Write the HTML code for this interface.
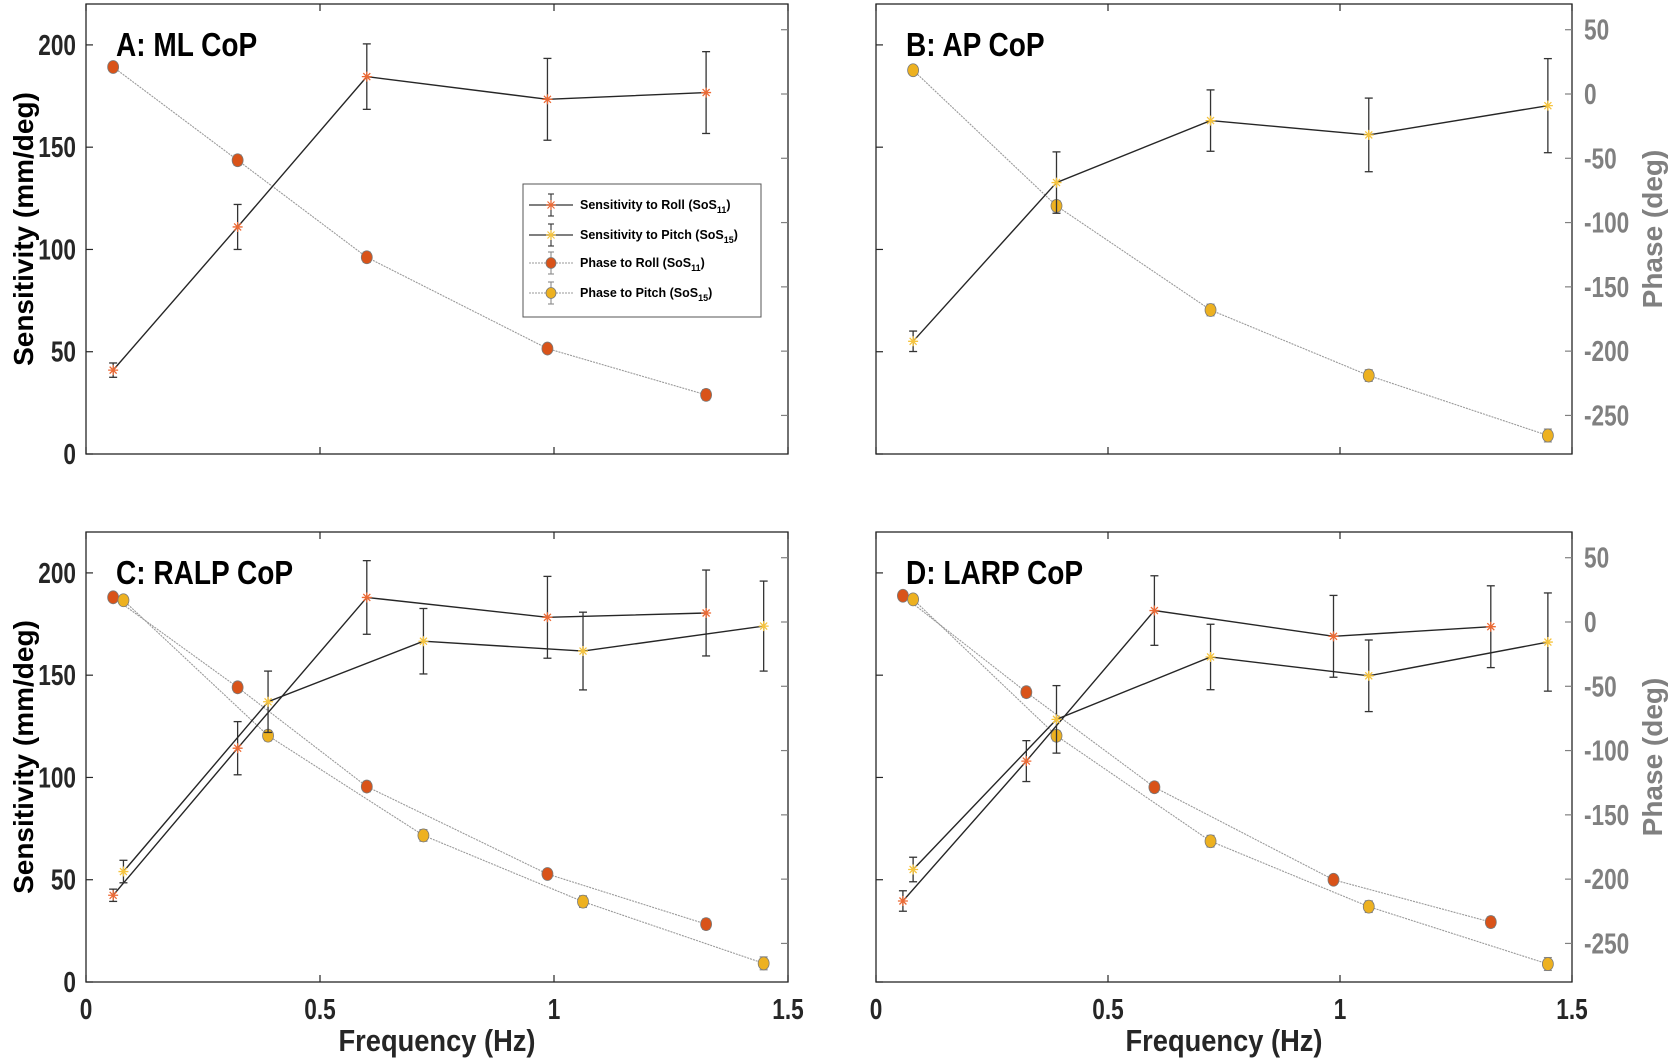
<!DOCTYPE html>
<html><head><meta charset="utf-8">
<style>
html,body{margin:0;padding:0;background:#fff;}
svg{display:block;}
text{font-family:"Liberation Sans",sans-serif;font-weight:bold;}
</style></head>
<body>
<svg id="fig" width="1675" height="1063" viewBox="0 0 1675 1063" xmlns="http://www.w3.org/2000/svg"></svg>
<script>
// ---- data ----
const freqRoll = [0.058, 0.324, 0.60, 0.986, 1.325];
const freqPitch = [0.080, 0.389, 0.721, 1.062, 1.448];
const xTicks = [0, 0.5, 1, 1.5];
const xTickLabels = ["0", "0.5", "1", "1.5"];
const sensTicks = [0, 50, 100, 150, 200];
const phaseTicks = [50, 0, -50, -100, -150, -200, -250];

const sensRollA = [41, 111, 184.5, 173.4, 176.7];
const sensRollErrA = [3.5, 11, 16, 20, 20];
const phaseRollA = [21, -51.5, -127, -198, -234];
const phaseRollErrA = [3, 4, 4, 3.5, 4];

const sensPitchB = [55.1, 132.7, 163, 156, 170.3];
const sensPitchErrB = [5, 15, 15, 18, 23];
const phasePitchB = [18.5, -87, -168, -219, -265.6];
const phasePitchErrB = [3, 4, 4.5, 4.5, 5];

const sensRollC = [42.4, 114.3, 188, 178.3, 180.4];
const sensRollErrC = [3, 13, 18, 20, 21];
const sensPitchC = [54, 137, 166.6, 161.8, 174];
const sensPitchErrC = [5.5, 15, 16, 19, 22];
const phaseRollC = [19.2, -50.8, -128, -196, -235];
const phaseRollErrC = [3, 4, 4, 3.5, 4];
const phasePitchC = [16.9, -88.4, -166, -217.5, -265.5];
const phasePitchErrC = [3, 4, 4.5, 4.5, 5];

const sensRollD = [39.6, 108, 181.6, 169, 173.7];
const sensRollErrD = [5, 10, 17, 20, 20];
const sensPitchD = [55, 128.4, 158.9, 149.7, 166.2];
const sensPitchErrD = [6, 16.5, 16, 17.5, 24];
const phaseRollD = [20.4, -54.6, -128.5, -200.5, -233.4];
const phaseRollErrD = [3, 4, 4, 3.5, 4];
const phasePitchD = [17.6, -88.5, -170.5, -221.4, -266];
const phasePitchErrD = [3, 4, 4.5, 4.5, 5];

const NS = "http://www.w3.org/2000/svg";
const svg = document.getElementById("fig");
function el(tag, attrs, parent) {
  const e = document.createElementNS(NS, tag);
  for (const k in attrs) e.setAttribute(k, attrs[k]);
  (parent || svg).appendChild(e);
  return e;
}
function ctext(parent, x, y, txt, size, anchor, fill, sx, rot) {
  const t = el("text", {x: 0, y: 0, "font-size": size, "text-anchor": anchor, fill: fill,
    transform: `translate(${x} ${y}) rotate(${rot || 0}) scale(${sx} 1)`}, parent);
  t.textContent = txt;
  return t;
}
const C_ROLL = "#d95319", C_PITCH = "#edb120", C_ROLL_STAR = "#ec6a35", C_PITCH_STAR = "#f6c43e";
const NARROW = 0.78;

function panel(cfg) {
  const g = el("g", {});
  
  
  const L = cfg.x0, R = cfg.x1, T = cfg.y0, B = cfg.y1;
  const xs = v => L + (v / 1.5) * (R - L);
  const ys = v => B - (v / 220) * (B - T);
  const yp = v => B - ((v + 280) / 350) * (B - T);
  const box = el("rect", {x: L, y: T, width: R - L, height: B - T, fill: "none", stroke: "#262626", "stroke-width": 1.3}, g);
  
  
  xTicks.forEach((t, i) => {
    const x = xs(t);
    el("line", {x1: x, y1: B, x2: x, y2: B - 7, stroke: "#262626", "stroke-width": 1.2}, g);
    el("line", {x1: x, y1: T, x2: x, y2: T + 7, stroke: "#262626", "stroke-width": 1.2}, g);
    if (cfg.xlabels) {
      const tx = ctext(g, x, B + 37, xTickLabels[i], 29, "middle", "#262626", NARROW);
      
      
    }
  });
  sensTicks.forEach(t => {
    const y = ys(t);
    el("line", {x1: L, y1: y, x2: L + 7, y2: y, stroke: "#262626", "stroke-width": 1.2}, g);
    if (cfg.ylabels) {
      const tx = ctext(g, L - 10, y + 10, String(t), 29, "end", "#262626", NARROW);
      
      
    }
  });
  phaseTicks.forEach(t => {
    const y = yp(t);
    el("line", {x1: R, y1: y, x2: R - 7, y2: y, stroke: "#808080", "stroke-width": 1.2}, g);
    if (cfg.plabels) {
      const tx = ctext(g, R + 12, y + 10, String(t), 29, "start", "#808080", NARROW);
      
      
    }
  });
  const ti = ctext(g, L + 30, T + 52, cfg.title, 33, "start", "#000", 0.85);
  
  

  function phaseSeries(freqs, vals, errs, color, nm) {
    const pts = freqs.map((f, i) => xs(f) + "," + yp(vals[i])).join(" ");
    const pl = el("polyline", {points: pts, fill: "none", stroke: "#9a9a9a", "stroke-width": 1.1, "stroke-dasharray": "2,1"}, g);
    
    
    freqs.forEach((f, i) => {
      const x = xs(f), y = yp(vals[i]), e1 = yp(vals[i] + errs[i]), e2 = yp(vals[i] - errs[i]);
      el("line", {x1: x, y1: e1, x2: x, y2: e2, stroke: "#8a8a8a", "stroke-width": 1.2}, g);
      el("line", {x1: x - 4, y1: e1, x2: x + 4, y2: e1, stroke: "#8a8a8a", "stroke-width": 1.2}, g);
      el("line", {x1: x - 4, y1: e2, x2: x + 4, y2: e2, stroke: "#8a8a8a", "stroke-width": 1.2}, g);
      const c = el("ellipse", {cx: x, cy: y, rx: 5.5, ry: 6.5, fill: color, stroke: "#7a7a7a", "stroke-width": 0.8}, g);
      
      
    });
  }
  function sensSeries(freqs, vals, errs, color, nm) {
    const pts = freqs.map((f, i) => xs(f) + "," + ys(vals[i])).join(" ");
    const pl = el("polyline", {points: pts, fill: "none", stroke: "#262626", "stroke-width": 1.4}, g);
    
    
    freqs.forEach((f, i) => {
      const x = xs(f), y = ys(vals[i]), e1 = ys(vals[i] + errs[i]), e2 = ys(vals[i] - errs[i]);
      el("line", {x1: x, y1: e1, x2: x, y2: e2, stroke: "#333", "stroke-width": 1.3}, g);
      el("line", {x1: x - 4, y1: e1, x2: x + 4, y2: e1, stroke: "#333", "stroke-width": 1.3}, g);
      el("line", {x1: x - 4, y1: e2, x2: x + 4, y2: e2, stroke: "#333", "stroke-width": 1.3}, g);
      const s = el("path", {d: `M${x-5},${y}H${x+5}M${x},${y-5}V${y+5}M${x-3.5},${y-3.5}L${x+3.5},${y+3.5}M${x-3.5},${y+3.5}L${x+3.5},${y-3.5}`, stroke: color, "stroke-width": 1.3}, g);
      
      
    });
  }
  cfg.series.forEach(s => { if (s.kind === "phase") phaseSeries(s.f, s.v, s.e, s.c, s.n); });
  cfg.series.forEach(s => { if (s.kind === "sens") sensSeries(s.f, s.v, s.e, s.c, s.n); });
}

panel({name: "panel-a-ml-cop", title: "A: ML CoP", x0: 86, x1: 788, y0: 4, y1: 454, ylabels: true, plabels: false, xlabels: false,
  series: [
    {kind: "phase", f: freqRoll, v: phaseRollA, e: phaseRollErrA, c: C_ROLL, n: "phase-roll-a"},
    {kind: "sens", f: freqRoll, v: sensRollA, e: sensRollErrA, c: C_ROLL_STAR, n: "sens-roll-a"}
  ]});
panel({name: "panel-b-ap-cop", title: "B: AP CoP", x0: 876, x1: 1572, y0: 4, y1: 454, ylabels: false, plabels: true, xlabels: false,
  series: [
    {kind: "phase", f: freqPitch, v: phasePitchB, e: phasePitchErrB, c: C_PITCH, n: "phase-pitch-b"},
    {kind: "sens", f: freqPitch, v: sensPitchB, e: sensPitchErrB, c: C_PITCH_STAR, n: "sens-pitch-b"}
  ]});
panel({name: "panel-c-ralp-cop", title: "C: RALP CoP", x0: 86, x1: 788, y0: 532, y1: 982, ylabels: true, plabels: false, xlabels: true,
  series: [
    {kind: "phase", f: freqRoll, v: phaseRollC, e: phaseRollErrC, c: C_ROLL, n: "phase-roll-c"},
    {kind: "phase", f: freqPitch, v: phasePitchC, e: phasePitchErrC, c: C_PITCH, n: "phase-pitch-c"},
    {kind: "sens", f: freqRoll, v: sensRollC, e: sensRollErrC, c: C_ROLL_STAR, n: "sens-roll-c"},
    {kind: "sens", f: freqPitch, v: sensPitchC, e: sensPitchErrC, c: C_PITCH_STAR, n: "sens-pitch-c"}
  ]});
panel({name: "panel-d-larp-cop", title: "D: LARP CoP", x0: 876, x1: 1572, y0: 532, y1: 982, ylabels: false, plabels: true, xlabels: true,
  series: [
    {kind: "phase", f: freqRoll, v: phaseRollD, e: phaseRollErrD, c: C_ROLL, n: "phase-roll-d"},
    {kind: "phase", f: freqPitch, v: phasePitchD, e: phasePitchErrD, c: C_PITCH, n: "phase-pitch-d"},
    {kind: "sens", f: freqRoll, v: sensRollD, e: sensRollErrD, c: C_ROLL_STAR, n: "sens-roll-d"},
    {kind: "sens", f: freqPitch, v: sensPitchD, e: sensPitchErrD, c: C_PITCH_STAR, n: "sens-pitch-d"}
  ]});

function axisTitle(txt, x, y, rot, color, nm, size, sx) {
  const t = ctext(svg, x, y, txt, size, "middle", color, sx, rot);
  
  
}
axisTitle("Sensitivity (mm/deg)", 33, 229, -90, "#000", "y-axis-title-top", 28, 1);
axisTitle("Sensitivity (mm/deg)", 33, 757, -90, "#000", "y-axis-title-bottom", 28, 1);
axisTitle("Phase (deg)", 1662, 229, -90, "#808080", "phase-axis-title-top", 28, 1);
axisTitle("Phase (deg)", 1662, 757, -90, "#808080", "phase-axis-title-bottom", 28, 1);
axisTitle("Frequency (Hz)", 437, 1051, 0, "#262626", "x-axis-title-left", 31, 0.88);
axisTitle("Frequency (Hz)", 1224, 1051, 0, "#262626", "x-axis-title-right", 31, 0.88);

// legend
const lg = el("g", {});


el("rect", {x: 523, y: 184, width: 238, height: 133, fill: "#fff", stroke: "#555", "stroke-width": 1}, lg);
const legendLabels = ["Sensitivity to Roll (SoS", "Sensitivity to Pitch (SoS", "Phase to Roll (SoS", "Phase to Pitch (SoS"];
const legendSubs = ["11", "15", "11", "15"];
const legendY = [205, 235, 263, 293];
legendLabels.forEach((lab, i) => {
  const y = legendY[i];
  const isSens = i < 2;
  const col = [C_ROLL_STAR, C_PITCH_STAR, C_ROLL, C_PITCH][i];
  const ec = isSens ? "#333" : "#8a8a8a";
  el("line", {x1: 529, y1: y, x2: 573, y2: y, stroke: isSens ? "#555" : "#9a9a9a", "stroke-width": isSens ? 1.4 : 1, "stroke-dasharray": isSens ? "" : "2,1"}, lg);
  el("line", {x1: 551, y1: y - 11, x2: 551, y2: y + 11, stroke: ec, "stroke-width": 1.1}, lg);
  el("line", {x1: 548, y1: y - 11, x2: 554, y2: y - 11, stroke: ec, "stroke-width": 1.1}, lg);
  el("line", {x1: 548, y1: y + 11, x2: 554, y2: y + 11, stroke: ec, "stroke-width": 1.1}, lg);
  if (isSens) {
    el("path", {d: `M546,${y}H556M551,${y-5}V${y+5}M547.5,${y-3.5}L554.5,${y+3.5}M547.5,${y+3.5}L554.5,${y-3.5}`, stroke: col, "stroke-width": 1.2}, lg);
  } else {
    el("ellipse", {cx: 551, cy: y, rx: 5, ry: 5.5, fill: col, stroke: "#7a7a7a", "stroke-width": 0.8}, lg);
  }
  const t = el("text", {x: 580, y: y + 4, "font-size": 12.5, fill: "#000"}, lg);
  
  
  t.appendChild(document.createTextNode(lab));
  const ts = document.createElementNS(NS, "tspan");
  ts.setAttribute("font-size", "9");
  ts.setAttribute("dy", "4");
  ts.textContent = legendSubs[i];
  t.appendChild(ts);
  const tc = document.createElementNS(NS, "tspan");
  tc.setAttribute("dy", "-4");
  tc.textContent = ")";
  t.appendChild(tc);
});
</script>
</body></html>
